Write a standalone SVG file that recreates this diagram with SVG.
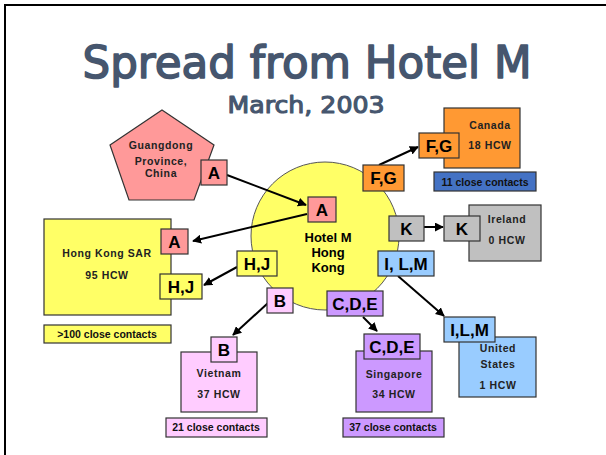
<svg xmlns="http://www.w3.org/2000/svg" width="606" height="455" viewBox="0 0 606 455">
<defs>
<marker id="ah" viewBox="0 0 10 10" refX="9" refY="5" markerWidth="4.5" markerHeight="4.5" markerUnits="strokeWidth" orient="auto">
<path d="M0,0 L10,5 L0,10 z" fill="#000"/>
</marker>
</defs>
<style>
.bx{stroke:#333;stroke-width:1.2}
.pk{fill:#FF9999}.yl{fill:#FFFF66}.or{fill:#FF9933}.bl{fill:#4472C4}.gr{fill:#C0C0C0}.lb{fill:#99CCFF}.lv{fill:#CC99FF}.lp{fill:#FFCCFF}
.lab{font-family:"Liberation Sans",Arial,sans-serif;font-weight:bold;font-size:17px;fill:#000;text-anchor:middle}
.t{font-family:"Liberation Sans",Arial,sans-serif;font-weight:bold;font-size:10.5px;letter-spacing:0.6px;fill:#222;text-anchor:middle}
.cc{font-family:"Liberation Sans",Arial,sans-serif;font-weight:bold;font-size:10.5px;fill:#111;text-anchor:middle}
.ctr{font-family:"Liberation Sans",Arial,sans-serif;font-weight:bold;font-size:13px;fill:#000;text-anchor:middle}
.ar{stroke:#000;stroke-width:2;fill:none;marker-end:url(#ah)}
</style>
<rect x="0" y="0" width="606" height="455" fill="#fff"/>
<rect x="5" y="5" width="700" height="600" fill="none" stroke="#000" stroke-width="2"/>
<text x="307" y="78" textLength="449" lengthAdjust="spacingAndGlyphs" style="font-family:'DejaVu Sans',sans-serif;font-size:44px;fill:#46566E;stroke:#46566E;stroke-width:1.6;stroke-linejoin:round;text-anchor:middle">Spread from Hotel M</text>
<text x="306" y="113" textLength="157" lengthAdjust="spacingAndGlyphs" style="font-family:'DejaVu Sans',sans-serif;font-size:23px;fill:#46566E;stroke:#46566E;stroke-width:1.1;stroke-linejoin:round;text-anchor:middle">March, 2003</text>

<g id="hotel">
<circle cx="325" cy="236" r="74" fill="#FFFF66" stroke="#555" stroke-width="1"/>
<text class="ctr" x="328" y="242">Hotel M</text>
<text class="ctr" x="328" y="257">Hong</text>
<text class="ctr" x="328" y="272">Kong</text>
</g>

<g id="guangdong">
<polygon points="162,110 214,145 194,200 129,200 110,145" class="bx pk"/>
<text class="t" x="161" y="149">Guangdong</text>
<text class="t" x="161" y="165">Province,</text>
<text class="t" x="161" y="177">China</text>
</g>

<g id="hongkong">
<rect x="44" y="219" width="127" height="96" class="bx yl"/>
<text class="t" x="107" y="257">Hong Kong SAR</text>
<text class="t" x="107" y="279">95 HCW</text>
<rect x="44" y="325" width="127" height="18" class="bx yl"/>
<text class="cc" x="107" y="338">&gt;100  close contacts</text>
</g>

<g id="canada">
<rect x="444" y="108" width="76" height="60" class="bx or"/>
<text class="t" x="490" y="129">Canada</text>
<text class="t" x="490" y="149">18 HCW</text>
<rect x="434" y="172" width="102" height="19" class="bx bl"/>
<text class="cc" x="485" y="186">11 close contacts</text>
</g>

<g id="ireland">
<rect x="469" y="205" width="72" height="56" class="bx gr"/>
<text class="t" x="507" y="223">Ireland</text>
<text class="t" x="507" y="244">0 HCW</text>
</g>

<g id="us">
<rect x="459" y="337" width="77" height="60" class="bx lb"/>
<text class="t" x="498" y="352">United</text>
<text class="t" x="498" y="368">States</text>
<text class="t" x="498" y="389">1 HCW</text>
</g>

<g id="singapore">
<rect x="356" y="351" width="76" height="61" class="bx lv"/>
<text class="t" x="394" y="378">Singapore</text>
<text class="t" x="394" y="398">34 HCW</text>
<rect x="343" y="418" width="101" height="19" class="bx lv"/>
<text class="cc" x="393" y="431">37 close contacts</text>
</g>

<g id="vietnam">
<rect x="181" y="352" width="76" height="60" class="bx lp"/>
<text class="t" x="219" y="377">Vietnam</text>
<text class="t" x="219" y="398">37 HCW</text>
<rect x="166" y="418" width="101" height="19" class="bx lp"/>
<text class="cc" x="216" y="431">21 close contacts</text>
</g>

<g id="connectors">
<line x1="227" y1="175" x2="306" y2="205" class="ar"/>
<line x1="307" y1="214" x2="193" y2="241" class="ar"/>
<line x1="379" y1="165" x2="418" y2="147" class="ar"/>
<line x1="424" y1="227" x2="443" y2="227" class="ar"/>
<line x1="237" y1="267" x2="204" y2="285" class="ar"/>
<line x1="268" y1="303" x2="233" y2="335" class="ar"/>
<line x1="363" y1="317" x2="377" y2="331" class="ar"/>
<line x1="398" y1="276" x2="444" y2="316" class="ar"/>
</g>

<g id="tag-a-gd"><rect x="201" y="160" width="26" height="25" class="bx pk"/><text class="lab" x="214" y="179">A</text></g>
<g id="tag-a-hotel"><rect x="308" y="197" width="28" height="25" class="bx pk"/><text class="lab" x="322" y="216">A</text></g>
<g id="tag-a-hk"><rect x="161" y="229" width="27" height="25" class="bx pk"/><text class="lab" x="174.5" y="248">A</text></g>
<g id="tag-hj-hotel"><rect x="237" y="251" width="40" height="25" class="bx yl"/><text class="lab" x="257" y="270">H,J</text></g>
<g id="tag-hj-hk"><rect x="160" y="274" width="42" height="25" class="bx yl"/><text class="lab" x="181" y="293">H,J</text></g>
<g id="tag-fg-hotel"><rect x="363" y="165" width="41" height="26" class="bx or"/><text class="lab" x="383.5" y="184">F,G</text></g>
<g id="tag-fg-ca"><rect x="419" y="133" width="40" height="25" class="bx or"/><text class="lab" x="439" y="152">F,G</text></g>
<g id="tag-k-hotel"><rect x="389" y="216" width="35" height="25" class="bx gr"/><text class="lab" x="406.5" y="235">K</text></g>
<g id="tag-k-ie"><rect x="444" y="216" width="36" height="25" class="bx gr"/><text class="lab" x="462" y="235">K</text></g>
<g id="tag-ilm-hotel"><rect x="378" y="251" width="56" height="25" class="bx lb"/><text class="lab" x="406" y="270">I, L,M</text></g>
<g id="tag-ilm-us"><rect x="444" y="317" width="51" height="25" class="bx lb"/><text class="lab" x="469.5" y="336">I,L,M</text></g>
<g id="tag-cde-hotel"><rect x="327" y="291" width="56" height="25" class="bx lv"/><text class="lab" x="355" y="310">C,D,E</text></g>
<g id="tag-cde-sg"><rect x="364" y="334" width="56" height="25" class="bx lv"/><text class="lab" x="392" y="353">C,D,E</text></g>
<g id="tag-b-hotel"><rect x="267" y="288" width="26" height="25" class="bx lp"/><text class="lab" x="280" y="307">B</text></g>
<g id="tag-b-vn"><rect x="211" y="337" width="26" height="25" class="bx lp"/><text class="lab" x="224" y="356">B</text></g>
</svg>
